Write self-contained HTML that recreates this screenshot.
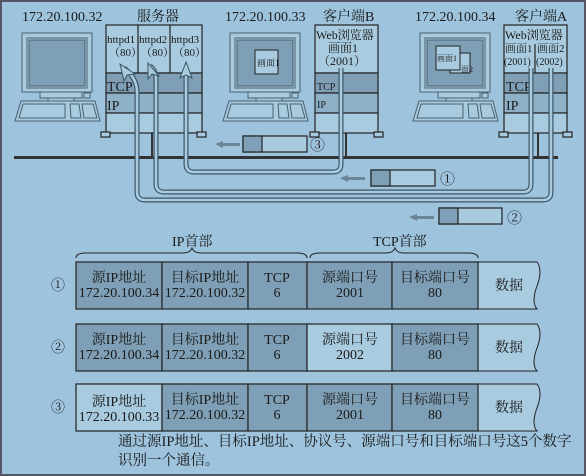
<!DOCTYPE html>
<html><head><meta charset="utf-8"><style>
html,body{margin:0;padding:0;background:#9dc3dd}
svg{display:block}
text{font-family:"Liberation Serif","Noto Serif CJK SC",serif;fill:#1a1a1a}
</style></head><body>
<svg width="586" height="476" viewBox="0 0 586 476" xmlns="http://www.w3.org/2000/svg">
<defs>
<g id="pc" stroke="#4a5f6e" stroke-width="1" fill="none">
  <rect x="7" y="0" width="70" height="59" fill="#a9cbe0"/>
  <rect x="12" y="5" width="60" height="50" fill="#a9cbe0"/>
  <rect x="14" y="7" width="56" height="46" fill="#7e9fb5"/>
  <rect x="25" y="59" width="42" height="6" fill="#a9cbe0"/>
  <rect x="33" y="65" width="26" height="4" fill="#a9cbe0"/>
  <rect x="69" y="60" width="6" height="5" fill="#a9cbe0"/>
  <path d="M6 68 H80 L85 88 H0 Z" fill="#a9cbe0"/>
  <path d="M8 71 H50 L50 85 H4 Z"/>
  <path d="M55 71 H64 L66 85 H56 Z"/>
  <path d="M67 71 H78 L82 85 H69 Z"/>
</g>
</defs>
<rect x="1" y="1" width="584" height="474" fill="#9dc3dd" stroke="#556" stroke-width="2"/>

<g font-size="14">
<text x="22" y="21">172.20.100.32</text>
<text x="137" y="21">服务器</text>
<text x="225" y="21">172.20.100.33</text>
<text x="323" y="21">客户端B</text>
<text x="415" y="21">172.20.100.34</text>
<text x="515" y="21">客户端A</text>
</g>

<use href="#pc" x="15" y="33"/>
<use href="#pc" x="223" y="33"/>
<use href="#pc" x="413" y="33"/>
<rect x="255" y="50" width="23" height="24" fill="#a9cbe0" stroke="#222"/>
<text x="257" y="66" font-size="9">画面1</text>
<rect x="450" y="53" width="20" height="20" fill="#a9cbe0" stroke="#222"/>
<text x="461" y="72" font-size="8">面2</text>
<rect x="436" y="46" width="24" height="24" fill="#a9cbe0" stroke="#222"/>
<text x="437" y="61" font-size="8">画面1</text>

<rect x="14" y="156" width="544" height="3" fill="#333"/>
<rect x="151" y="133" width="2" height="24" fill="#333"/>
<rect x="345" y="133" width="2" height="24" fill="#333"/>
<rect x="537" y="133" width="2" height="24" fill="#333"/>

<g stroke="#222" stroke-width="1.2">
<rect x="106" y="25" width="96" height="48" fill="#a9cbe0"/>
<rect x="106" y="73" width="96" height="20" fill="#7e9fb5"/>
<rect x="106" y="93" width="96" height="20" fill="#8fb1c8"/>
<rect x="106" y="113" width="96" height="20" fill="#a9cbe0"/>
<line x1="138" y1="25" x2="138" y2="73"/><line x1="170" y1="25" x2="170" y2="73"/>
<rect x="101" y="132" width="9" height="5" fill="#a9cbe0"/><rect x="197" y="132" width="9" height="5" fill="#a9cbe0"/>
</g>
<g font-size="11"><text x="107" y="43">httpd1</text><text x="139" y="43">httpd2</text><text x="171" y="43">httpd3</text>
<text x="109" y="56">（80）</text><text x="141" y="56">（80）</text><text x="173" y="56">（80）</text></g>
<text x="107" y="91" font-size="14">TCP</text><text x="107" y="110" font-size="14">IP</text>

<g stroke="#222" stroke-width="1.2">
<rect x="315" y="25" width="63" height="48" fill="#a9cbe0"/>
<rect x="315" y="73" width="63" height="20" fill="#7e9fb5"/>
<rect x="315" y="93" width="63" height="20" fill="#8fb1c8"/>
<rect x="315" y="113" width="63" height="20" fill="#a9cbe0"/>
<rect x="310" y="132" width="9" height="5" fill="#a9cbe0"/><rect x="374" y="132" width="9" height="5" fill="#a9cbe0"/>
</g>
<text x="316" y="39" font-size="12">Web浏览器</text><text x="328" y="52" font-size="12">画面1</text><text x="318" y="65" font-size="12">（2001）</text>
<text x="317" y="90" font-size="10">TCP</text><text x="317" y="108" font-size="10">IP</text>

<g stroke="#222" stroke-width="1.2">
<rect x="504" y="25" width="63" height="48" fill="#a9cbe0"/>
<rect x="504" y="73" width="63" height="20" fill="#7e9fb5"/>
<rect x="504" y="93" width="63" height="20" fill="#8fb1c8"/>
<rect x="504" y="113" width="63" height="20" fill="#a9cbe0"/>
<line x1="535" y1="44" x2="535" y2="73"/>
<rect x="499" y="132" width="9" height="5" fill="#a9cbe0"/><rect x="563" y="132" width="9" height="5" fill="#a9cbe0"/>
</g>
<text x="505" y="39" font-size="12">Web浏览器</text>
<text x="505" y="52" font-size="11">画面1</text><text x="537" y="52" font-size="11">画面2</text>
<text x="504" y="65" font-size="10">(2001)</text><text x="536" y="65" font-size="10">(2002)</text>
<text x="506" y="91" font-size="14">TCP</text><text x="506" y="110" font-size="14">IP</text>

<g fill="none" stroke-linejoin="round">
<g stroke="#3d5566" stroke-width="5">
<path d="M341 68 V164 Q341 172 333 172 H194 Q186 172 186 164 V72"/>
<path d="M531 68 V184 Q531 192 523 192 H164 Q156 192 156 184 V80 Q156 70 150 66"/>
<path d="M551 68 V192 Q551 200 543 200 H145 Q137 200 137 192 V92 Q137 78 124 68"/>
</g>
<g stroke="#a9cbe0" stroke-width="2.6">
<path d="M341 68 V164 Q341 172 333 172 H194 Q186 172 186 164 V72"/>
<path d="M531 68 V184 Q531 192 523 192 H164 Q156 192 156 184 V80 Q156 70 150 66"/>
<path d="M551 68 V192 Q551 200 543 200 H145 Q137 200 137 192 V92 Q137 78 124 68"/>
</g>
</g>
<g fill="#a9cbe0" stroke="#3d5566" stroke-width="1">
<path d="M186 62 L180 78 L186 75 L192 78 Z"/>
<path d="M148 63 L148 79 L152 74 L159 76 Z"/>
<path d="M120 64 L124 81 L127 75 L135 74 Z"/>
</g>

<g stroke="#222" stroke-width="1.2">
<rect x="243" y="136" width="64" height="16" fill="#a9cbe0"/><rect x="243" y="136" width="19" height="16" fill="#7e9fb5"/>
<rect x="371" y="170" width="64" height="16" fill="#a9cbe0"/><rect x="371" y="170" width="19" height="16" fill="#7e9fb5"/>
<rect x="439" y="208" width="63" height="16" fill="#a9cbe0"/><rect x="439" y="208" width="19" height="16" fill="#7e9fb5"/>
</g>
<g fill="#6b8596">
<path d="M215 144 L223 141 V143 H240 V146 H223 V148 Z"/>
<path d="M340 178 L348 175 V177 H365 V180 H348 V182 Z"/>
<path d="M409 217 L417 214 V216 H434 V219 H417 V221 Z"/>
</g>
<g font-size="15"><text x="310" y="150">③</text><text x="440" y="184">①</text><text x="507" y="223">②</text></g>

<g fill="none" stroke="#222" stroke-width="1">
<path d="M76 258 Q76 253 86 253 H183 Q190 253 192 248 Q194 253 201 253 H297 Q307 253 307 258"/>
<path d="M310 258 Q310 253 320 253 H386 Q393 253 395 248 Q397 253 404 253 H468 Q478 253 478 258"/>
</g>
<text x="172" y="246" font-size="14">IP首部</text>
<text x="373" y="246" font-size="14">TCP首部</text>

<g font-size="14" text-anchor="middle">
<g transform="translate(0,262)">
<path d="M478 0 H537 Q543 8 537 24 Q531 40 537 47 H478 Z" fill="#a9cbe0" stroke="#222"/>
<g stroke="#222" stroke-width="1.2"><rect x="76" y="0" width="86" height="47" fill="#7e9fb5"/><rect x="162" y="0" width="86" height="47" fill="#7e9fb5"/><rect x="248" y="0" width="59" height="47" fill="#7e9fb5"/><rect x="307" y="0" width="85" height="47" fill="#7e9fb5"/><rect x="392" y="0" width="86" height="47" fill="#7e9fb5"/></g>
<text x="119" y="20">源IP地址</text><text x="119" y="35">172.20.100.34</text>
<text x="205" y="20">目标IP地址</text><text x="205" y="35">172.20.100.32</text>
<text x="277" y="20">TCP</text><text x="277" y="35">6</text>
<text x="350" y="20">源端口号</text><text x="350" y="35">2001</text>
<text x="435" y="20">目标端口号</text><text x="435" y="35">80</text>
<text x="509" y="28">数据</text>
<text x="58" y="28">①</text>
</g>
<g transform="translate(0,324)">
<path d="M478 0 H537 Q543 8 537 24 Q531 40 537 47 H478 Z" fill="#a9cbe0" stroke="#222"/>
<g stroke="#222" stroke-width="1.2"><rect x="76" y="0" width="86" height="47" fill="#7e9fb5"/><rect x="162" y="0" width="86" height="47" fill="#7e9fb5"/><rect x="248" y="0" width="59" height="47" fill="#7e9fb5"/><rect x="307" y="0" width="85" height="47" fill="#a9cbe0"/><rect x="392" y="0" width="86" height="47" fill="#7e9fb5"/></g>
<text x="119" y="20">源IP地址</text><text x="119" y="35">172.20.100.34</text>
<text x="205" y="20">目标IP地址</text><text x="205" y="35">172.20.100.32</text>
<text x="277" y="20">TCP</text><text x="277" y="35">6</text>
<text x="350" y="20">源端口号</text><text x="350" y="35">2002</text>
<text x="435" y="20">目标端口号</text><text x="435" y="35">80</text>
<text x="509" y="28">数据</text>
<text x="58" y="28">②</text>
</g>
<g transform="translate(0,384)">
<path d="M478 0 H537 Q543 8 537 24 Q531 40 537 47 H478 Z" fill="#a9cbe0" stroke="#222"/>
<g stroke="#222" stroke-width="1.2"><rect x="76" y="0" width="86" height="47" fill="#a9cbe0"/><rect x="162" y="0" width="86" height="47" fill="#7e9fb5"/><rect x="248" y="0" width="59" height="47" fill="#7e9fb5"/><rect x="307" y="0" width="85" height="47" fill="#7e9fb5"/><rect x="392" y="0" width="86" height="47" fill="#7e9fb5"/></g>
<text x="119" y="22">源IP地址</text><text x="119" y="37">172.20.100.33</text>
<text x="205" y="20">目标IP地址</text><text x="205" y="35">172.20.100.32</text>
<text x="277" y="20">TCP</text><text x="277" y="35">6</text>
<text x="350" y="20">源端口号</text><text x="350" y="35">2001</text>
<text x="435" y="20">目标端口号</text><text x="435" y="35">80</text>
<text x="509" y="28">数据</text>
<text x="58" y="28">③</text>
</g>
</g>
<g font-size="14.5"><text x="118" y="446">通过源IP地址、目标IP地址、协议号、源端口号和目标端口号这5个数字</text>
<text x="118" y="465">识别一个通信。</text></g>
</svg>
</body></html>
